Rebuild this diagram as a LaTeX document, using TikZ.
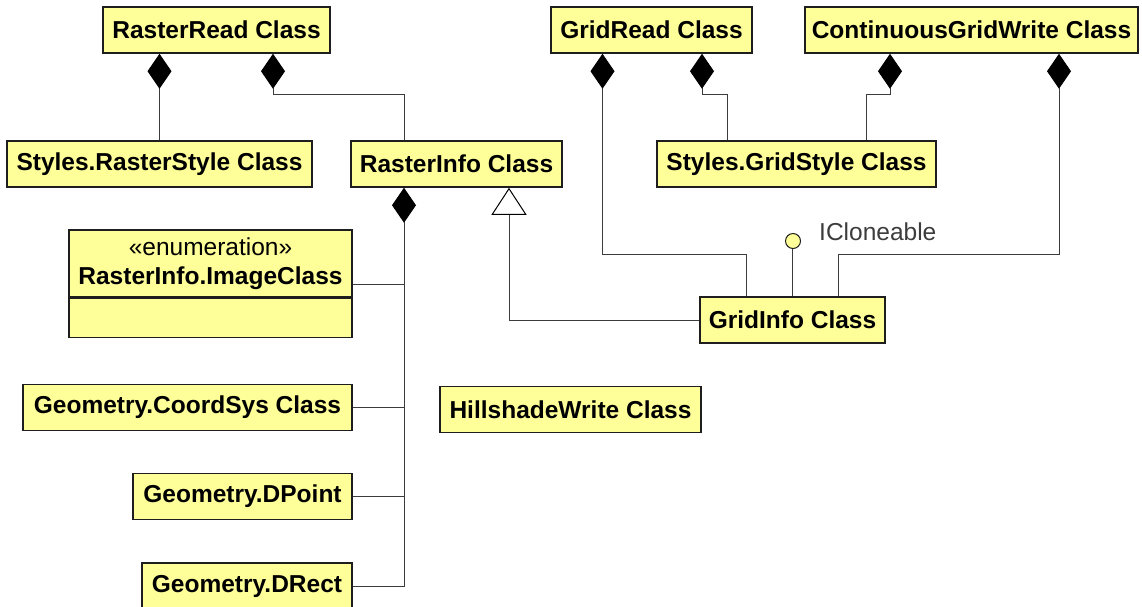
\documentclass[tikz,border=0pt]{standalone}
\usepackage{fontspec}
\setmainfont{Liberation Sans}
\usetikzlibrary{arrows.meta}
\definecolor{clsfill}{RGB}{255,255,153}
\definecolor{clsline}{RGB}{30,30,30}
\definecolor{wire}{RGB}{60,60,60}

\begin{document}
\begin{tikzpicture}[
  x=1pt, y=-1pt,
  cls/.style={
    draw=clsline, line width=1.5pt, fill=clsfill, rectangle,
    minimum height=46pt, inner xsep=5pt, inner ysep=0pt,
    font=\fontsize{24.5}{29}\selectfont\bfseries, align=center
  },
  link/.style={draw=wire, line width=1pt},
  comp/.style={link, -{Diamond[length=35pt, width=24pt, color=black]}},
  inherit/.style={link, -{Triangle[open, length=27pt, width=35pt, fill=white, color=black]}},
  iface/.style={circle, draw=clsline, line width=1pt, fill=clsfill,
    minimum size=15pt, inner sep=0pt},
  lbl/.style={font=\fontsize{24.5}{29}\selectfont, text=wire, inner sep=0pt},
]
\useasboundingbox (0,0) rectangle (1142,606);

\coordinate (rbus) at (404,0);

\node[cls, minimum width=227pt] (rasterRead) at (216.5,30)  {RasterRead Class};
\node[cls, minimum width=201pt] (gridRead)   at (651.5,30)  {GridRead Class};
\node[cls, minimum width=333pt] (gridWrite)  at (971.5,30)  {ContinuousGridWrite Class};
\node[cls, minimum width=305pt] (rasterStyle) at (159.5,164) {Styles.RasterStyle Class};
\node[cls, minimum width=211pt] (rasterInfo) at (456.5,164) {RasterInfo Class};
\node[cls, minimum width=279pt] (gridStyle)  at (796.5,164) {Styles.GridStyle Class};
\node[cls, minimum width=185pt] (gridInfo)   at (792.5,320) {GridInfo Class};
\node[cls, minimum width=283pt, minimum height=67pt, anchor=north] (imgCls) at (210.5,229)
  {{\mdseries «enumeration»}\\RasterInfo.ImageClass};
\node[cls, minimum width=283pt, minimum height=39pt, anchor=north] (imgAttr) at (imgCls.south) {};
\node[cls, minimum width=329pt] (coordSys)   at (187.5,407.5) {Geometry.CoordSys Class};
\node[cls, minimum width=261pt] (hillshade)  at (570.5,409.5) {HillshadeWrite Class};
\node[cls, minimum width=219pt] (dPoint)     at (242.5,496.5) {Geometry.DPoint};
\node[cls, minimum width=210pt] (dRect)      at (247,586)     {Geometry.DRect};

% ICloneable lollipop
\node[iface] (cloneable) at (793,241) {};
\node[lbl, anchor=west] (cloneTxt) at (819,232) {ICloneable};
\draw[link] (gridInfo.north) -- (gridInfo.north |- cloneable.south);

% compositions
\draw[comp] (rasterStyle.north) -- (rasterStyle.north |- rasterRead.south);
\draw[comp] (rasterInfo.north -| rbus) -- ++(0,-46) -| ([xshift=56.5pt]rasterRead.south);
\draw[comp] ([xshift=-69.5pt]gridStyle.north) -- ++(0,-46) -| ([xshift=50.5pt]gridRead.south);
\draw[comp] ([xshift=69.5pt]gridStyle.north) -- ++(0,-46) -| ([xshift=-81.5pt]gridWrite.south);
\draw[comp] ([xshift=-46pt]gridInfo.north) -- ++(0,-42) -| ([xshift=-49pt]gridRead.south);
\draw[comp] ([xshift=46pt]gridInfo.north) -- ++(0,-42) -| ([xshift=87.5pt]gridWrite.south);
\draw[comp] (dRect.east) -| (rasterInfo.south -| rbus);

\draw[link] ([yshift=13pt]imgAttr.north east) -- ++(52,0);
\draw[link] (coordSys.east) -- (coordSys.east -| rbus);
\draw[link] (dPoint.east) -- (dPoint.east -| rbus);

% inheritance
\draw[inherit] (gridInfo.west) -| ([xshift=52.5pt]rasterInfo.south);

\end{tikzpicture}
\end{document}
